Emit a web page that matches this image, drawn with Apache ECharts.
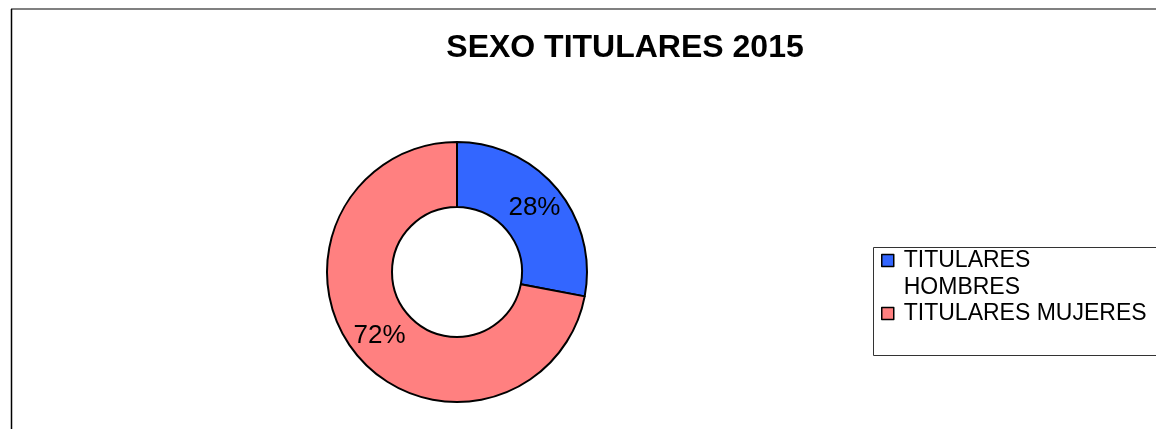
<!DOCTYPE html>
<html><head><meta charset="utf-8">
<script src="https://cdn.jsdelivr.net/npm/echarts@6/dist/echarts.min.js"></script>
<style>html,body{margin:0;padding:0;background:#fff}#c{width:1156px;height:429px}</style>
</head><body><div id="c"></div>
<script>
const TITLE = 'SEXO TITULARES 2015';
const categories = ['TITULARES HOMBRES', 'TITULARES MUJERES'];
const values = [28, 72];
const colors = ['#3366FF', '#FF8080'];

const FONT = "'Liberation Sans', Arial, sans-serif";
const chart = echarts.init(document.getElementById('c'));
const data = categories.map((n, i) => ({ name: n, value: values[i], itemStyle: { color: colors[i] } }));

chart.setOption({
  backgroundColor: '#fff',
  animation: false,
  title: {
    text: TITLE, left: 620, top: 27, textAlign: 'center',
    textStyle: { fontFamily: FONT, fontSize: 32, fontWeight: 'bold', color: '#000' }
  },
  graphic: [
    { type: 'line', shape: { x1: 11, y1: 9, x2: 1160, y2: 9 }, style: { stroke: '#808080', lineWidth: 2 } },
    { type: 'line', shape: { x1: 11.5, y1: 9, x2: 11.5, y2: 440 }, style: { stroke: '#000', lineWidth: 1.5 } },
    { type: 'rect', shape: { x: 873.5, y: 247.5, width: 400, height: 108 }, style: { fill: 'none', stroke: '#333', lineWidth: 1 } }
  ],
  legend: [
    {
      data: [categories[0]], orient: 'vertical', left: 881, top: 220, padding: 0,
      itemWidth: 12, itemHeight: 12, icon: 'rect',
      itemStyle: { borderColor: '#000', borderWidth: 1.5 },
      formatter: n => ' \n' + n.replace(' ', '\n'),
      textStyle: { fontFamily: FONT, fontSize: 23, color: '#000', lineHeight: 27, padding: [0, 0, 0, 5] }
    },
    {
      data: [categories[1]], orient: 'vertical', left: 881, top: 300, padding: 0,
      itemWidth: 12, itemHeight: 12, icon: 'rect',
      itemStyle: { borderColor: '#000', borderWidth: 1.5 },
      textStyle: { fontFamily: FONT, fontSize: 23, color: '#000', lineHeight: 27, padding: [0, 0, 0, 5] }
    }
  ],
  series: [{
    type: 'pie', center: [457, 272], radius: [65, 130], startAngle: 90, clockwise: true,
    data: data,
    itemStyle: { borderColor: '#000', borderWidth: 2 },
    label: { show: true, position: 'inside', formatter: p => p.value + '%', fontFamily: FONT, fontSize: 26, color: '#000' },
    labelLine: { show: false },
    emphasis: { disabled: true }
  }]
});
</script></body></html>
